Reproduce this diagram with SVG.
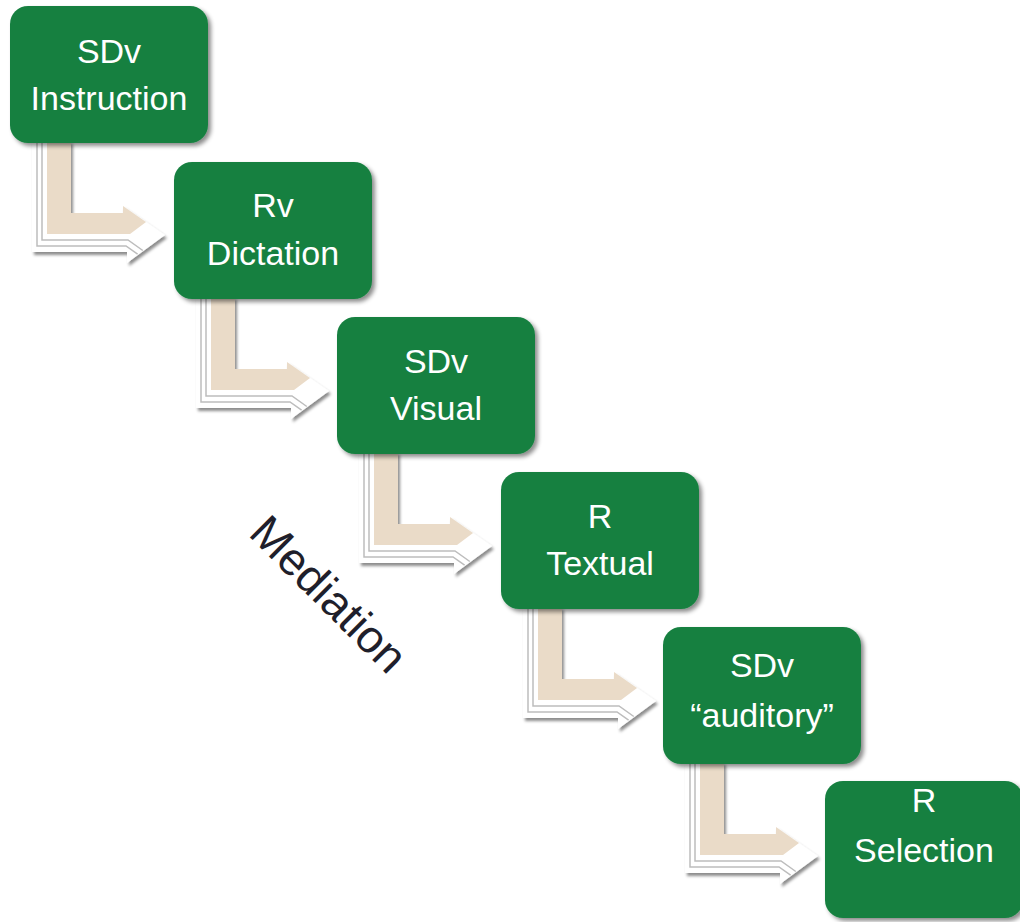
<svg xmlns="http://www.w3.org/2000/svg" width="1020" height="922" viewBox="0 0 1020 922">
<defs>
<filter id="boxShadow" x="-10%" y="-10%" width="125%" height="130%">
<feDropShadow dx="3" dy="3" stdDeviation="2" flood-color="#000" flood-opacity="0.45"/>
</filter>
<filter id="arrowShadow" x="-20%" y="-20%" width="140%" height="140%">
<feDropShadow dx="2" dy="3" stdDeviation="1.5" flood-color="#000" flood-opacity="0.45"/>
</filter>
<g id="bentArrow">
<polygon class="arrowBack" points="22,135 61,135 61,207 113,207 113,200 155,229 117,257 117,246 22,246"/>
<polyline class="stripe" points="27,135 27,240 116,240 127.6,248.2"/>
<polyline class="stripe" points="32,135 32,234 118,234 132.8,244.5"/>
<polygon class="arrowFront" points="37,135 61,135 61,207 113,207 113,200 136,216 120,228 37,228"/>
</g>
</defs>
<style>
.box{fill:#178041;filter:url(#boxShadow);}
.lbl{font-family:"Liberation Sans",Arial,sans-serif;font-size:34px;fill:#ffffff;text-anchor:middle;}
.arrowBack{fill:#ffffff;filter:url(#arrowShadow);}
.arrowFront{fill:#eadbc8;}
.stripe{fill:none;stroke:#bdbdbd;stroke-width:1.5;}
.med{font-family:"Liberation Sans",Arial,sans-serif;font-size:46px;fill:#1f1f2b;text-anchor:middle;}
</style>
<g id="connectors">
<use href="#bentArrow" transform="translate(10,6)"/>
<use href="#bentArrow" transform="translate(174,162)"/>
<use href="#bentArrow" transform="translate(337,317)"/>
<use href="#bentArrow" transform="translate(501,472)"/>
<use href="#bentArrow" transform="translate(663,627)"/>
</g>
<g id="node1">
<rect class="box" x="10" y="6" width="198" height="137" rx="18"/>
<text class="lbl"><tspan x="109" y="63">SDv</tspan><tspan x="109" y="110">Instruction</tspan></text>
</g>
<g id="node2">
<rect class="box" x="174" y="162" width="198" height="137" rx="18"/>
<text class="lbl"><tspan x="273" y="217">Rv</tspan><tspan x="273" y="265">Dictation</tspan></text>
</g>
<g id="node3">
<rect class="box" x="337" y="317" width="198" height="137" rx="18"/>
<text class="lbl"><tspan x="436" y="373">SDv</tspan><tspan x="436" y="420">Visual</tspan></text>
</g>
<g id="node4">
<rect class="box" x="501" y="472" width="198" height="137" rx="18"/>
<text class="lbl"><tspan x="600" y="528">R</tspan><tspan x="600" y="575">Textual</tspan></text>
</g>
<g id="node5">
<rect class="box" x="663" y="627" width="198" height="137" rx="18"/>
<text class="lbl"><tspan x="762" y="677">SDv</tspan><tspan x="762" y="727">“auditory”</tspan></text>
</g>
<g id="node6">
<rect class="box" x="825" y="781" width="198" height="137" rx="18"/>
<text class="lbl"><tspan x="924" y="812">R</tspan><tspan x="924" y="862">Selection</tspan></text>
</g>
<g id="mediation">
<text class="med" transform="translate(329,594) rotate(45)" x="0" y="16">Mediation</text>
</g>
</svg>
